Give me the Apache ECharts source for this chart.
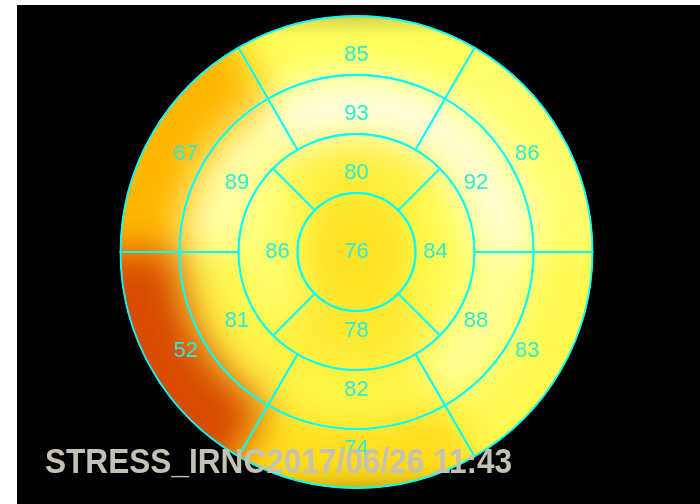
<!DOCTYPE html>
<html>
<head>
<meta charset="utf-8">
<script src="https://cdn.jsdelivr.net/npm/echarts@6/dist/echarts.min.js"></script>
<style>
  html, body { margin: 0; padding: 0; background: #fff; width: 700px; height: 504px; overflow: hidden; }
  #frame { position: absolute; left: 17px; top: 5px; right: 0; bottom: 0; background: #000; }
  .layer { position: absolute; left: 0; top: 0; width: 700px; height: 504px; }
  #shade { filter: blur(19px); }
</style>
</head>
<body>
<div id="frame"></div>
<div id="shadeClip" class="layer"><div id="shade" class="layer"></div></div>
<div id="grid" class="layer"></div>
<script>
// 17-segment polar map, values listed counter-clockwise starting at 3 o'clock
const basalValues  = [86, 85, 67, 52, 74, 83];
const midValues    = [92, 93, 89, 81, 82, 88];
const apicalValues = [84, 80, 86, 78];
const apexValues   = [76];
const caption = 'STRESS_IRNC2017/06/26 11:43';

// colour scale (hot-iron style), one stop every 5 units from colorMin to colorMax
const colorMin = 40;
const colorMax = 95;
const colorStops = ['#3c0a8c', '#7a0c50', '#c83800', '#f06800', '#ff8c00', '#ffac00',
                    '#ffc800', '#ffe020', '#fff040', '#ffff5a', '#ffffc0', '#ffffff'];

// ring layout in radius-axis units, plus the angle where the first segment starts
const CX = 356.5, CY = 252, R = 236;
const rings = [
  { values: apexValues,   inner: 0, outer: 1, offset: 0 },
  { values: apicalValues, inner: 1, outer: 2, offset: -45 },
  { values: midValues,    inner: 2, outer: 3, offset: 0 },
  { values: basalValues,  inner: 3, outer: 4, offset: 0 }
];

// rows: [ring, startAngle, endAngle, value, inner, outer]
const segments = [];
rings.forEach((ring, ri) => {
  const span = 360 / ring.values.length;
  ring.values.forEach((v, i) => {
    const a0 = ring.offset + i * span;
    segments.push([ri, a0, a0 + span, v, ring.inner, ring.outer]);
  });
});

const polarCfg = { center: [CX, CY], radius: R };
const radiusAxisCfg = {
  type: 'value', min: 0, max: 4,
  axisLine: { show: false }, axisTick: { show: false }, axisLabel: { show: false }, splitLine: { show: false }
};
const angleAxisCfg = {
  type: 'value', min: 0, max: 360, startAngle: 0, clockwise: false,
  axisLine: { show: false }, axisTick: { show: false }, axisLabel: { show: false }, splitLine: { show: false }
};

function geometry(params, api) {
  const cx = params.coordSys.cx, cy = params.coordSys.cy;
  const a0 = api.value(1), a1 = api.value(2);
  const inner = api.value(4), outer = api.value(5);
  const pOut0 = api.coord([outer, a0]);
  const pOut1 = api.coord([outer, a1]);
  const pIn = api.coord([inner, a0]);
  const r = Math.hypot(pOut0[0] - cx, pOut0[1] - cy);
  const r0 = Math.hypot(pIn[0] - cx, pIn[1] - cy);
  const full = (a1 - a0) >= 360;
  let s = Math.atan2(pOut1[1] - cy, pOut1[0] - cx);
  let e = Math.atan2(pOut0[1] - cy, pOut0[0] - cx);
  if (e <= s) e += Math.PI * 2;
  const mid = (a0 + a1) / 2;
  const lp = inner === 0 ? [cx, cy] : api.coord([inner + 0.34, mid]);
  return { cx, cy, r, r0, s, e, full, lp, outer };
}

// softened colour field underneath
const shade = echarts.init(document.getElementById('shade'), null, { renderer: 'canvas' });
shade.setOption({
  backgroundColor: 'transparent',
  animation: false,
  polar: polarCfg,
  radiusAxis: radiusAxisCfg,
  angleAxis: angleAxisCfg,
  visualMap: {
    show: false, type: 'continuous', dimension: 3, seriesIndex: 0,
    min: colorMin, max: colorMax, inRange: { color: colorStops }
  },
  series: [{
    type: 'custom',
    coordinateSystem: 'polar',
    dimensions: ['ring', 'start', 'end', 'value', 'inner', 'outer'],
    data: segments,
    renderItem: function (params, api) {
      const g = geometry(params, api);
      const color = api.visual('color');
      // outer ring continues past the rim so the softening does not pull in the black
      const rOut = g.outer === 4 ? g.r + 60 : g.r;
      if (g.full) {
        return { type: 'circle', shape: { cx: g.cx, cy: g.cy, r: rOut }, style: { fill: color } };
      }
      return {
        type: 'sector',
        shape: { cx: g.cx, cy: g.cy, r0: g.r0, r: rOut, startAngle: g.s, endAngle: g.e, clockwise: true },
        style: { fill: color, stroke: color, lineWidth: 1 }
      };
    }
  }]
});
document.getElementById('shadeClip').style.clipPath = 'circle(' + (R + 0.5) + 'px at ' + CX + 'px ' + CY + 'px)';

// segment outlines, values and caption on top
const grid = echarts.init(document.getElementById('grid'), null, { renderer: 'canvas' });
grid.setOption({
  backgroundColor: 'transparent',
  animation: false,
  polar: polarCfg,
  radiusAxis: radiusAxisCfg,
  angleAxis: angleAxisCfg,
  series: [{
    type: 'custom',
    coordinateSystem: 'polar',
    dimensions: ['ring', 'start', 'end', 'value', 'inner', 'outer'],
    data: segments,
    renderItem: function (params, api) {
      const g = geometry(params, api);
      const outline = g.full
        ? { type: 'circle', shape: { cx: g.cx, cy: g.cy, r: g.r }, style: { fill: 'none', stroke: '#00ffff', lineWidth: 2.2 } }
        : { type: 'sector',
            shape: { cx: g.cx, cy: g.cy, r0: g.r0, r: g.r, startAngle: g.s, endAngle: g.e, clockwise: true },
            style: { fill: 'none', stroke: '#00ffff', lineWidth: 1.8 } };
      return {
        type: 'group',
        children: [
          outline,
          { type: 'text', x: g.lp[0], y: g.lp[1], z2: 10,
            style: { text: String(api.value(3)), fill: '#30ead6', fontSize: 22,
                     fontFamily: '"Liberation Sans", Arial, sans-serif', align: 'center', verticalAlign: 'middle' } }
        ]
      };
    }
  }],
  graphic: [{
    type: 'text', x: 45, y: 463, scaleY: 1.1, z: 100,
    style: { text: caption, fill: '#c4c1b5', font: 'bold 31.6px "Liberation Sans", Arial, sans-serif',
             align: 'left', verticalAlign: 'middle' }
  }]
});
</script>
</body>
</html>
